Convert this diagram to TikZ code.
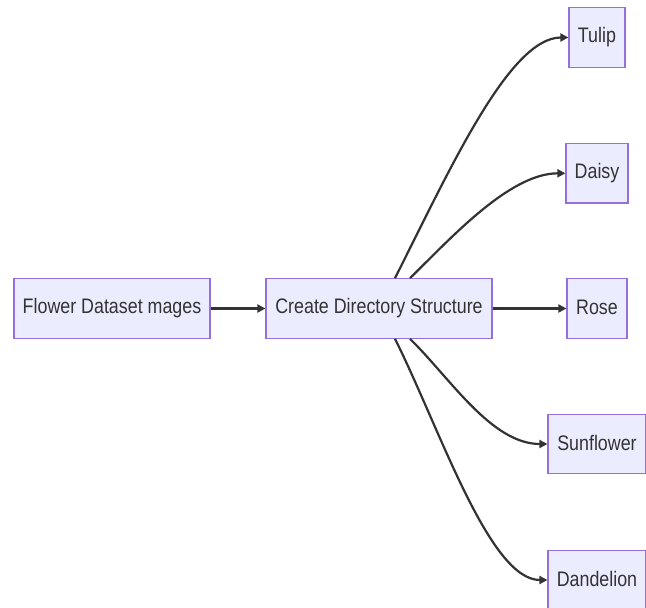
\documentclass[tikz,border=0pt]{standalone}
\usepackage{fontspec}
\setmainfont[FakeStretch=0.85]{Liberation Sans}
\usetikzlibrary{arrows.meta}
\definecolor{boxfill}{HTML}{ECECFF}
\definecolor{boxline}{HTML}{9370DB}
\definecolor{ink}{HTML}{333333}
\begin{document}
\begin{tikzpicture}[x=1pt,y=-1pt,
  box/.style={draw=boxline,fill=boxfill,line width=1.2pt,inner sep=0pt,minimum height=59.5pt,text=ink,font=\fontsize{21}{25}\selectfont},
  link/.style={draw=ink,line width=2.2pt,-{Triangle[length=8pt,width=8pt]}}]
\useasboundingbox (0,0) rectangle (646,608);
\node[box,minimum width=196pt] (flower) at (112,308.5) {\raisebox{1.5pt}{Flower Dataset mages}};
\node[box,minimum width=226pt] (create) at (379,308.5) {\raisebox{1.5pt}{Create Directory Structure}};
\node[box,minimum width=60pt] (rose) at (597,308.5) {\raisebox{1.5pt}{Rose}};
\node[box,minimum width=56pt] (tulip) at (597,37.5) {\raisebox{1.5pt}{Tulip}};
\node[box,minimum width=62pt] (daisy) at (597,173.3) {\raisebox{1.5pt}{Daisy}};
\node[box,minimum width=98pt] (sunflower) at (597,444) {\raisebox{1.5pt}{Sunflower}};
\node[box,minimum width=98pt] (dandelion) at (597,580) {\raisebox{1.5pt}{Dandelion}};
\draw[link] (flower) -- (create);
\draw[link] (create) -- (rose);
\draw[link] ([xshift=16pt]create.north) .. controls +(55,-109) and +(-59,0) .. (tulip.west);
\draw[link] ([xshift=31pt]create.north) .. controls +(40,-39) and +(-56,0) .. (daisy.west);
\draw[link] ([xshift=31pt]create.south) .. controls +(40,39) and +(-56,0) .. (sunflower.west);
\draw[link] ([xshift=16pt]create.south) .. controls +(45,90) and +(-58,0) .. (dandelion.west);
\end{tikzpicture}
\end{document}
